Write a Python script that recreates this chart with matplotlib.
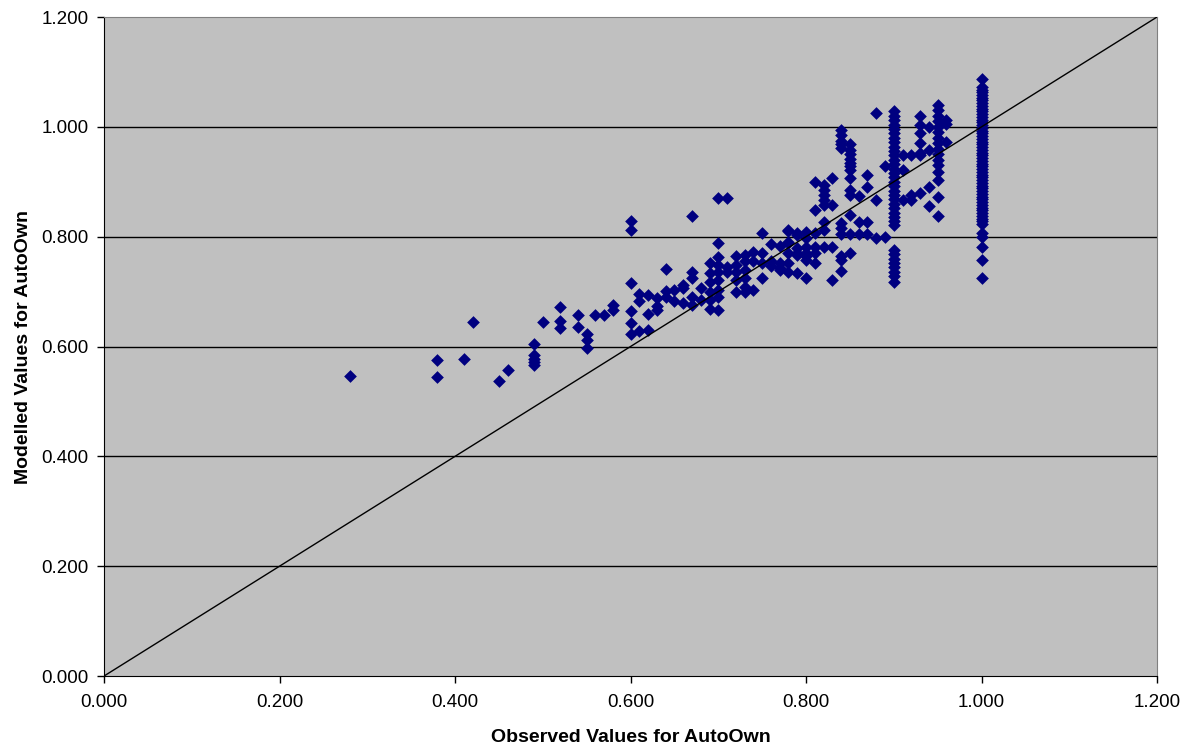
#import libraries
import matplotlib.pyplot as plt
from matplotlib.ticker import FormatStrFormatter

# observed / modelled pairs (grouped by region)
obs_low = [0.28, 0.38, 0.38, 0.41, 0.42, 0.45, 0.46,
           0.49, 0.49, 0.49, 0.49, 0.49, 0.50,
           0.52, 0.52, 0.52, 0.54, 0.54, 0.55, 0.55, 0.55,
           0.56, 0.57, 0.58, 0.58]
mod_low = [0.547, 0.575, 0.544, 0.577, 0.644, 0.538, 0.558,
           0.605, 0.585, 0.578, 0.572, 0.566, 0.645,
           0.672, 0.647, 0.633, 0.658, 0.636, 0.622, 0.612, 0.598,
           0.657, 0.657, 0.676, 0.667]

obs_mid = [0.60, 0.60, 0.60, 0.60, 0.60, 0.60,
           0.61, 0.61, 0.61, 0.62, 0.62, 0.62, 0.63, 0.63, 0.63,
           0.64, 0.64, 0.64, 0.65, 0.65, 0.66, 0.66, 0.66,
           0.67, 0.67, 0.67, 0.67, 0.67, 0.68, 0.68,
           0.69, 0.69, 0.69, 0.69, 0.69, 0.69,
           0.70, 0.70, 0.70, 0.70, 0.70, 0.70, 0.70, 0.70, 0.70,
           0.71, 0.71, 0.71, 0.72, 0.72, 0.72, 0.72, 0.72,
           0.73, 0.73, 0.73, 0.73, 0.73, 0.73, 0.74, 0.74, 0.74,
           0.75, 0.75, 0.75, 0.75, 0.76, 0.76, 0.76,
           0.77, 0.77, 0.77, 0.77,
           0.78, 0.78, 0.78, 0.78, 0.78, 0.78, 0.78,
           0.79, 0.79, 0.79, 0.79, 0.79, 0.79,
           0.80, 0.80, 0.80, 0.80, 0.80, 0.80, 0.80]
mod_mid = [0.828, 0.813, 0.716, 0.665, 0.642, 0.622,
           0.695, 0.683, 0.628, 0.693, 0.659, 0.630, 0.689, 0.673, 0.667,
           0.742, 0.701, 0.691, 0.703, 0.682, 0.712, 0.706, 0.679,
           0.838, 0.736, 0.724, 0.691, 0.676, 0.706, 0.685,
           0.752, 0.733, 0.718, 0.700, 0.685, 0.668,
           0.871, 0.788, 0.763, 0.749, 0.736, 0.721, 0.703, 0.691, 0.667,
           0.871, 0.745, 0.736, 0.764, 0.749, 0.736, 0.721, 0.700,
           0.767, 0.755, 0.740, 0.724, 0.709, 0.700, 0.773, 0.755, 0.703,
           0.807, 0.770, 0.752, 0.724, 0.787, 0.755, 0.746,
           0.783, 0.752, 0.743, 0.740,
           0.811, 0.791, 0.770, 0.736, 0.812, 0.788, 0.752,
           0.803, 0.779, 0.770, 0.733, 0.806, 0.767,
           0.809, 0.797, 0.782, 0.770, 0.758, 0.725, 0.764]

obs_high = [0.81, 0.81, 0.81, 0.81, 0.81, 0.81,
            0.82, 0.82, 0.82, 0.82, 0.82, 0.82, 0.82, 0.82,
            0.83, 0.83, 0.83, 0.83,
            0.84, 0.84, 0.84, 0.84, 0.84, 0.84, 0.84, 0.84, 0.84, 0.84, 0.84,
            0.85, 0.85, 0.85, 0.85, 0.85, 0.85, 0.85, 0.85, 0.85, 0.85, 0.85, 0.85, 0.85,
            0.86, 0.86, 0.86, 0.87, 0.87, 0.87, 0.87,
            0.88, 0.88, 0.88, 0.89, 0.89,
            0.90, 0.90, 0.90, 0.90, 0.90, 0.90, 0.90, 0.90, 0.90, 0.90,
            0.90, 0.90, 0.90, 0.90, 0.90, 0.90, 0.90, 0.90, 0.90, 0.90,
            0.90, 0.90, 0.90, 0.90, 0.90, 0.90, 0.90,
            0.90, 0.90, 0.90, 0.90, 0.90, 0.90, 0.90, 0.90,
            0.91, 0.91, 0.91, 0.92, 0.92, 0.92,
            0.93, 0.93, 0.93, 0.93, 0.93, 0.93, 0.93,
            0.94, 0.94, 0.94, 0.94,
            0.95, 0.95, 0.95, 0.95, 0.95, 0.95, 0.95, 0.95,
            0.95, 0.95, 0.95, 0.95, 0.95, 0.95, 0.95, 0.95,
            0.96, 0.96, 0.96]
mod_high = [0.899, 0.849, 0.806, 0.782, 0.770, 0.752,
            0.894, 0.885, 0.875, 0.866, 0.858, 0.827, 0.812, 0.782,
            0.906, 0.858, 0.782, 0.721,
            0.995, 0.985, 0.975, 0.968, 0.962, 0.825, 0.816, 0.804, 0.764, 0.758, 0.737,
            0.968, 0.958, 0.950, 0.942, 0.935, 0.928, 0.922, 0.906, 0.885, 0.876, 0.840, 0.804, 0.770,
            0.874, 0.827, 0.804, 0.912, 0.891, 0.827, 0.804,
            1.026, 0.867, 0.797, 0.929, 0.800,
            1.028, 1.020, 1.012, 1.004, 0.996, 0.988, 0.980, 0.972, 0.964, 0.956,
            0.948, 0.940, 0.932, 0.924, 0.916, 0.908, 0.900, 0.892, 0.884, 0.876,
            0.868, 0.860, 0.852, 0.844, 0.836, 0.828, 0.821,
            0.776, 0.768, 0.760, 0.752, 0.744, 0.736, 0.728, 0.718,
            0.949, 0.922, 0.867, 0.949, 0.876, 0.867,
            1.019, 1.004, 0.988, 0.970, 0.952, 0.949, 0.879,
            1.000, 0.958, 0.890, 0.855,
            1.040, 1.030, 1.020, 1.010, 1.000, 0.990, 0.980, 0.970,
            0.960, 0.950, 0.940, 0.930, 0.918, 0.903, 0.873, 0.837,
            1.013, 1.006, 0.973]

# the big column at observed = 1.000
mod_one = [1.087, 1.073, 1.068, 1.063, 1.058, 1.053, 1.048, 1.043, 1.038, 1.033,
           1.028, 1.023, 1.018, 1.013, 1.008, 1.003, 0.998, 0.993, 0.988, 0.983,
           0.978, 0.973, 0.968, 0.963, 0.958, 0.953, 0.948, 0.943, 0.938, 0.933,
           0.928, 0.923, 0.918, 0.913, 0.908, 0.903, 0.898, 0.893, 0.888, 0.883,
           0.878, 0.873, 0.868, 0.863, 0.858, 0.853, 0.848, 0.843, 0.838, 0.833,
           0.828, 0.824, 0.806, 0.800, 0.782, 0.758, 0.724]
obs_one = [1.0] * len(mod_one)

ticks = [0.0, 0.2, 0.4, 0.6, 0.8, 1.0, 1.2]

obs = obs_low + obs_mid + obs_high + obs_one
mod = mod_low + mod_mid + mod_high + mod_one

plt.rcParams['font.family'] = ['Liberation Sans', 'DejaVu Sans']

fig = plt.figure(figsize=(11.89, 7.46), dpi=100)
ax = fig.add_axes([0.0875, 0.0938, 0.8856, 0.8834])
ax.set_facecolor('#C0C0C0')

# horizontal gridlines
for t in ticks[1:-1]:
    ax.axhline(t, color='black', lw=1, zorder=1)

ax.scatter(obs, mod, marker='D', s=42, color='#000080', linewidths=0, zorder=2)

# 1:1 line
ax.plot([0, 1.2], [0, 1.2], color='black', lw=1, zorder=3)

ax.set_xlim(0, 1.2)
ax.set_ylim(0, 1.2)
ax.set_xticks(ticks)
ax.set_yticks(ticks)
ax.xaxis.set_major_formatter(FormatStrFormatter('%.3f'))
ax.yaxis.set_major_formatter(FormatStrFormatter('%.3f'))
ax.tick_params(direction='out', length=5, width=1, labelsize=13.5, pad=6)
ax.tick_params(axis='x', pad=8)

ax.spines['left'].set_color('black')
ax.spines['bottom'].set_color('black')
ax.spines['top'].set_color('#808080')
ax.spines['right'].set_color('#808080')

ax.set_xlabel('Observed Values for AutoOwn', fontsize=14, fontweight='bold', labelpad=13)
ax.set_ylabel('Modelled Values for AutoOwn', fontsize=14, fontweight='bold', labelpad=7)

plt.savefig('out.png', dpi=100)
